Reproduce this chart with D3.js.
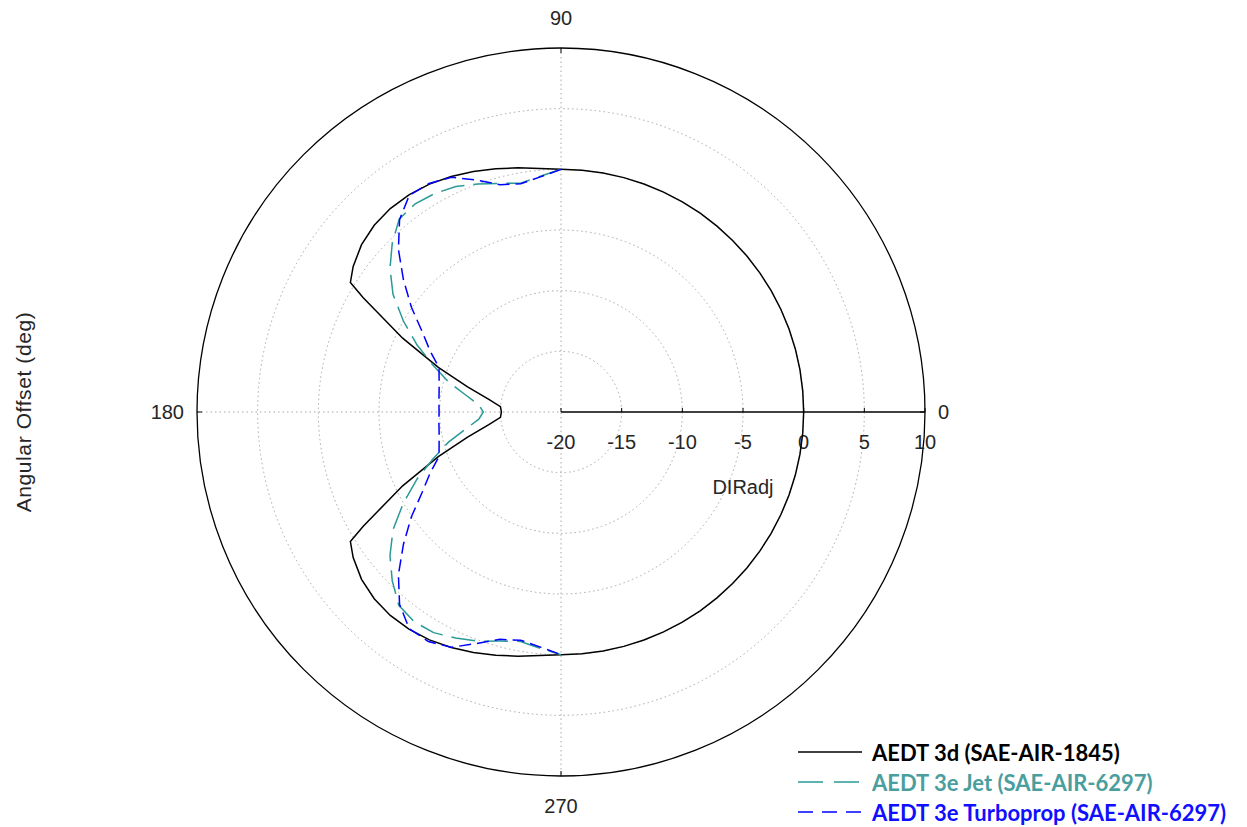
<!DOCTYPE html>
<html>
<head>
<meta charset="utf-8">
<script src="https://cdn.jsdelivr.net/npm/d3@7"></script>
<style>
body { margin: 0; background: #fff; }
svg text { font-family: "Liberation Sans", Arial, sans-serif; }
</style>
</head>
<body>
<svg id="chart" width="1247" height="827"></svg>
<script>
// radial axis (DIRadj) ticks and angle labels
const radialTicks = [-20, -15, -10, -5, 0, 5, 10];
const angleLabels = [0, 90, 180, 270];

// AEDT 3d (SAE-AIR-1845)
const blackAngles = [0, 5, 10, 15, 20, 25, 30, 35, 40, 45, 50, 55, 60, 65, 70, 75, 80, 85, 90,
  95, 100, 105, 110, 115, 120, 125, 130, 135, 140, 145, 148.4, 150, 155, 160, 165, 170, 175, 180,
  185, 190, 195, 200, 205, 210, 211.6, 215, 220, 225, 230, 235, 240, 245, 250, 255, 260, 265, 270,
  275, 280, 285, 290, 295, 300, 305, 310, 315, 320, 325, 330, 335, 340, 345, 350, 355, 360];
const blackValues = [0, 0, 0, 0, 0, 0, 0, 0, 0, 0, 0, 0, 0, 0, 0, 0, 0, 0, 0,
  0.15, 0.44, 0.75, 1.10, 1.42, 1.69, 1.85, 1.89, 1.77, 1.46, 0.91, 0.38, -1.18, -5.60, -9.24, -12.03, -13.96, -14.99, -15.09,
  -14.99, -13.96, -12.03, -9.24, -5.60, -1.18, 0.38, 0.91, 1.46, 1.77, 1.89, 1.85, 1.69, 1.42, 1.10, 0.75, 0.44, 0.15, 0,
  0, 0, 0, 0, 0, 0, 0, 0, 0, 0, 0, 0, 0, 0, 0, 0, 0, 0];

// AEDT 3e curves, 90..270 deg
const dashAngles = [90, 95, 100, 105, 110, 115, 120, 125, 130, 135, 140, 145, 150, 155, 160, 165, 170, 175, 180,
  185, 190, 195, 200, 205, 210, 215, 220, 225, 230, 235, 240, 245, 250, 255, 260, 265, 270];
const jetValues = [0, -0.5, -0.85, -0.5, 0.0, 0.5, 0.8, 0.95, 0.75, -0.33, -1.6, -3.1, -5.0, -6.9, -8.8, -10.4, -12.05, -13.2, -13.6,
  -13.2, -12.05, -10.4, -8.8, -6.9, -5.0, -3.1, -1.6, -0.33, 0.8, 1.1, 1.0, 0.55, 0.1, -0.45, -0.8, -0.45, 0];
const propValues = [0, -0.55, -0.9, -0.6, 0.35, 1.35, 1.75, 1.8, 0.7, -1.05, -3.05, -4.95, -6.8, -8.1, -9.3, -9.6, -9.8, -9.9, -9.95,
  -9.9, -9.8, -9.6, -9.3, -8.1, -6.8, -4.95, -3.05, -1.05, 0.7, 1.8, 1.85, 1.4, 0.3, -0.6, -0.9, -0.55, 0];

const seriesNames = ['AEDT 3d (SAE-AIR-1845)', 'AEDT 3e Jet (SAE-AIR-6297)', 'AEDT 3e Turboprop (SAE-AIR-6297)'];
const lineColors = ['#000000', '#2a9a97', '#0000ff'];
const textColors = ['#000000', '#4a9e9e', '#1010ff'];
const dashes = [null, '24,9', '12,6'];
const legendDashes = [null, '25,11', '15,9'];

var svg = d3.select('#chart');
var cx = 561, cy = 412, R = 364;
var rs = d3.scaleLinear().domain([-20, 10]).range([0, R]);
var g = svg.append('g').attr('transform', 'translate(' + cx + ',' + cy + ')');

// dotted grid circles
g.selectAll('circle.grid')
  .data(radialTicks.slice(1, -1))
  .enter().append('circle')
  .attr('class', 'grid')
  .attr('r', function (d) { return rs(d); })
  .attr('fill', 'none')
  .attr('stroke', '#a8a8a8')
  .attr('stroke-width', 1)
  .attr('stroke-dasharray', '1.5,3');

// dotted spokes
g.append('line').attr('x1', 0).attr('y1', -R).attr('x2', 0).attr('y2', R)
  .attr('stroke', '#a8a8a8').attr('stroke-dasharray', '1.5,3');
g.append('line').attr('x1', -R).attr('y1', 0).attr('x2', 0).attr('y2', 0)
  .attr('stroke', '#a8a8a8').attr('stroke-dasharray', '1.5,3');

// outer circle
g.append('circle').attr('r', rs(10)).attr('fill', 'none')
  .attr('stroke', '#000').attr('stroke-width', 1.3);

// angle ticks + labels
angleLabels.forEach(function (a) {
  var t = a * Math.PI / 180;
  var c = Math.cos(t), s = -Math.sin(t);
  g.append('line')
    .attr('x1', c * (R - 5)).attr('y1', s * (R - 5))
    .attr('x2', c * R).attr('y2', s * R)
    .attr('stroke', '#000');
  var off = (a == 90 || a == 270) ? 30 : 13;
  g.append('text')
    .attr('x', c * (R + off)).attr('y', s * (R + off))
    .attr('text-anchor', a == 0 ? 'start' : (a == 180 ? 'end' : 'middle'))
    .attr('dominant-baseline', 'central')
    .style('font-size', '20px')
    .style('fill', '#262626')
    .text(a);
});

// radial axis along 0 deg
g.append('line').attr('x1', 0).attr('y1', 0).attr('x2', R).attr('y2', 0)
  .attr('stroke', '#000').attr('stroke-width', 1.5);
g.selectAll('line.rtick')
  .data(radialTicks)
  .enter().append('line')
  .attr('class', 'rtick')
  .attr('x1', function (d) { return rs(d); })
  .attr('x2', function (d) { return rs(d); })
  .attr('y1', 0).attr('y2', -4)
  .attr('stroke', '#000');
g.selectAll('text.rlabel')
  .data(radialTicks)
  .enter().append('text')
  .attr('class', 'rlabel')
  .attr('x', function (d) { return rs(d); })
  .attr('y', 30)
  .attr('text-anchor', 'middle')
  .attr('dominant-baseline', 'central')
  .style('font-size', '20px')
  .style('fill', '#262626')
  .text(function (d) { return d; });
g.append('text')
  .attr('x', rs(-5)).attr('y', 75)
  .attr('text-anchor', 'middle')
  .attr('dominant-baseline', 'central')
  .style('font-size', '20px')
  .style('fill', '#262626')
  .text('DIRadj');

svg.append('text')
  .attr('transform', 'translate(23,' + cy + ') rotate(-90)')
  .attr('text-anchor', 'middle')
  .attr('dominant-baseline', 'central')
  .style('font-size', '21px')
  .style('letter-spacing', '0.6px')
  .style('fill', '#262626')
  .text('Angular Offset (deg)');

// curves
var line = d3.lineRadial()
  .angle(function (d) { return (90 - d[0]) * Math.PI / 180; })
  .radius(function (d) { return rs(d[1]); });

var series = [
  d3.zip(blackAngles, blackValues),
  d3.zip(dashAngles, jetValues),
  d3.zip(dashAngles, propValues)
];

g.selectAll('path.curve')
  .data(series)
  .enter().append('path')
  .attr('class', 'curve')
  .attr('d', line)
  .attr('fill', 'none')
  .attr('stroke', function (d, i) { return lineColors[i]; })
  .attr('stroke-width', 1.5)
  .attr('stroke-dasharray', function (d, i) { return dashes[i]; });

// legend
var leg = svg.append('g').attr('transform', 'translate(798,752)');
leg.selectAll('line')
  .data(seriesNames)
  .enter().append('line')
  .attr('x1', 0).attr('x2', 64)
  .attr('y1', function (d, i) { return i * 30; })
  .attr('y2', function (d, i) { return i * 30; })
  .attr('stroke', function (d, i) { return lineColors[i]; })
  .attr('stroke-width', 1.5)
  .attr('stroke-dasharray', function (d, i) { return legendDashes[i]; });
leg.selectAll('text')
  .data(seriesNames)
  .enter().append('text')
  .attr('x', 74)
  .attr('y', function (d, i) { return i * 30; })
  .attr('dominant-baseline', 'central')
  .style('font-family', 'Lato, "Open Sans", sans-serif')
  .style('font-weight', 'bold')
  .style('font-size', '22px')
  .style('fill', function (d, i) { return textColors[i]; })
  .text(function (d) { return d; });
</script>
</body>
</html>
